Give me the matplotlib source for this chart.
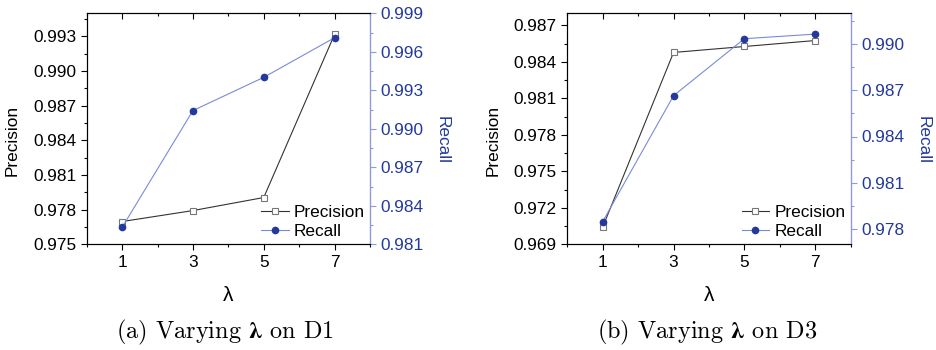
import matplotlib
matplotlib.use("Agg")
import matplotlib.pyplot as plt
from matplotlib.ticker import MultipleLocator, FormatStrFormatter

plt.rcParams['font.family'] = ['Liberation Sans', 'DejaVu Sans']
plt.rcParams['mathtext.fontset'] = 'cm'

lam = [1, 3, 5, 7]
prec_d1 = [0.97697, 0.97792, 0.97905, 0.99318]
rec_d1 = [0.98232, 0.99142, 0.99401, 0.99710]
prec_d3 = [0.97042, 0.98478, 0.98527, 0.98576]
rec_d3 = [0.97848, 0.98665, 0.99035, 0.99065]

x_ticks = [1, 3, 5, 7]
left_lims = [(0.975, 0.995), (0.969, 0.988)]
left_ticks = [[0.975, 0.978, 0.981, 0.984, 0.987, 0.990, 0.993],
              [0.969, 0.972, 0.975, 0.978, 0.981, 0.984, 0.987]]
right_lims = [(0.981, 0.999), (0.977, 0.992)]
right_ticks = [[0.981, 0.984, 0.987, 0.990, 0.993, 0.996, 0.999],
               [0.978, 0.981, 0.984, 0.987, 0.990]]
captions = ["(a) Varying ", "(b) Varying "]
caption_tail = [" on D1", " on D3"]

blue_dark = "#23399b"
blue_line = "#7a8bd8"
blue_spine = "#8f9bd6"
fs = 12.4

fig = plt.figure(figsize=(9.36, 3.5), dpi=100)
lefts = [0.0926, 0.6061]
cap_x = [0.2404, 0.7556]
data = [(prec_d1, rec_d1), (prec_d3, rec_d3)]

for i in range(2):
    ax = fig.add_axes([lefts[i], 0.302, 0.3027, 0.66])
    ax2 = ax.twinx()
    prec, rec = data[i]
    l1, = ax.plot(lam, prec, color="#333333", lw=0.8, marker="s", ms=4,
                  mfc="white", mec="#777777", mew=0.8, label="Precision")
    l2, = ax2.plot(lam, rec, color=blue_line, lw=0.8, marker="o", ms=4.5,
                   mfc=blue_dark, mec=blue_dark, label="Recall")

    ax.set_xlim(0, 8)
    ax.set_xticks(x_ticks)
    ax.xaxis.set_minor_locator(MultipleLocator(1))
    ax.set_ylim(*left_lims[i])
    ax.set_yticks(left_ticks[i])
    ax.yaxis.set_minor_locator(MultipleLocator(0.0015))
    ax.yaxis.set_major_formatter(FormatStrFormatter('%.3f'))
    ax.tick_params(axis='both', which='major', labelsize=fs, length=4, width=0.8)
    ax.tick_params(axis='both', which='minor', length=2.5, width=0.8)
    ax.tick_params(axis='x', which='both', top=True, direction='out')

    ax2.set_ylim(*right_lims[i])
    ax2.set_yticks(right_ticks[i])
    ax2.yaxis.set_minor_locator(MultipleLocator(0.0015))
    ax2.yaxis.set_major_formatter(FormatStrFormatter('%.3f'))
    ax2.tick_params(axis='y', which='major', labelsize=fs, length=4, width=0.8,
                    colors=blue_spine, labelcolor=blue_dark)
    ax2.tick_params(axis='y', which='minor', length=2.5, width=0.8, colors=blue_spine)
    ax2.spines['right'].set_color(blue_spine)
    ax2.spines['right'].set_linewidth(1.0)
    ax.spines['right'].set_visible(False)
    for s in ['left', 'top', 'bottom']:
        ax.spines[s].set_linewidth(0.8)

    ax.set_ylabel("Precision", fontsize=fs)
    ax.yaxis.set_label_coords(-0.235, 0.45)
    ax2.set_ylabel("Recall", fontsize=fs, color=blue_dark, rotation=270, va='bottom')
    ax2.yaxis.set_label_coords(1.228, 0.45)
    ax.set_xlabel("λ", fontsize=15)
    ax.xaxis.set_label_coords(0.5, -0.18)

    ax2.legend([l1, l2], ["Precision", "Recall"], loc='lower right',
               bbox_to_anchor=(1.0, 0.0), frameon=False, fontsize=fs,
               handlelength=1.6, handletextpad=0.3, labelspacing=0.25,
               borderaxespad=0.2, borderpad=0.1)

    fig.text(cap_x[i], 0.051,
             captions[i] + r"$\boldsymbol{\lambda}$" + caption_tail[i],
             ha='center', va='center', fontsize=17.5, family='cmr10',
             math_fontfamily='stix')

# top ticks point inward
for ax in fig.axes[::2]:
    for t in ax.xaxis.get_major_ticks() + ax.xaxis.get_minor_ticks():
        t.tick2line.set_marker(3)

fig.savefig("out.png", dpi=100)
